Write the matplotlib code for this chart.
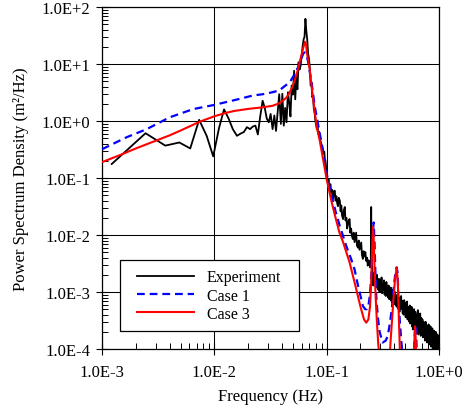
import matplotlib
matplotlib.use('Agg')
import matplotlib.pyplot as plt
from matplotlib.patches import Rectangle
from matplotlib.ticker import FixedLocator, LogLocator, NullFormatter

plt.rcParams['font.family'] = ['Liberation Serif', 'DejaVu Serif']

# ---- data ----
# experiment, low frequency part (Hz, m2/Hz)
exp_freq_low = [0.00122, 0.00244, 0.00366, 0.00488, 0.0061, 0.00732, 0.00854, 0.00977,
                0.011, 0.0122, 0.0134, 0.0146, 0.0159, 0.0171, 0.0183, 0.0195, 0.0208,
                0.022, 0.0232, 0.0244, 0.0256, 0.0269, 0.0281, 0.0293, 0.0305, 0.0317,
                0.033, 0.0342, 0.0354, 0.0366, 0.0378, 0.0391, 0.0403, 0.0415, 0.0427,
                0.0439, 0.0452, 0.0464, 0.0476, 0.0488, 0.05, 0.0513, 0.0525, 0.0537,
                0.0549, 0.0562, 0.0574, 0.0586, 0.0598, 0.061, 0.0623, 0.0635, 0.0647,
                0.0659, 0.0671, 0.0684, 0.0696, 0.0708, 0.072, 0.0732, 0.0745, 0.0757,
                0.0769, 0.0781, 0.0793, 0.0806, 0.0818, 0.083, 0.0842, 0.0854, 0.0867,
                0.0879, 0.0891, 0.0903, 0.0915, 0.0928, 0.094, 0.0952, 0.0964, 0.0976,
                0.0989]
exp_psd_low = [0.176, 0.61, 0.37, 0.42, 0.33, 1.05, 0.55, 0.24,
               0.75, 1.6, 1.1, 0.72, 0.55, 0.6, 0.64, 0.78, 0.72,
               0.8, 0.83, 0.58, 1.2, 2.27, 1.7, 1.1, 0.95, 1.33,
               0.72, 1.25, 0.67, 1.4, 2.95, 0.89, 3.0, 0.83, 1.7,
               0.95, 3.2, 2.1, 1.2, 4.2, 2.9, 7.6, 2.4, 6.2,
               3.6, 10.7, 8.0, 9.3, 14, 20, 27, 30, 62,
               38, 27, 15, 12.3, 8.5, 4.2, 4.8, 2.6, 2.8,
               1.6, 1.4, 1.0, 0.85, 0.72, 0.78, 0.6, 0.65, 0.5,
               0.45, 0.42, 0.36, 0.34, 0.3, 0.27, 0.29, 0.21, 0.2,
               0.15]

# experiment, high frequency part
exp_freq_high = [0.100, 0.102, 0.104, 0.106, 0.108, 0.110, 0.112, 0.114, 0.116, 0.118,
                 0.120, 0.122, 0.124, 0.126, 0.128, 0.131, 0.133, 0.135, 0.137, 0.140,
                 0.142, 0.145, 0.147, 0.150, 0.152, 0.154, 0.157, 0.160, 0.162, 0.165,
                 0.168, 0.171, 0.174, 0.177, 0.180, 0.183, 0.186, 0.190, 0.193, 0.196,
                 0.200, 0.203, 0.206, 0.210, 0.213, 0.217, 0.221, 0.225, 0.229, 0.232,
                 0.236, 0.240, 0.244, 0.247, 0.249, 0.251, 0.254,
                 0.256, 0.260, 0.264, 0.268, 0.272, 0.276, 0.280, 0.284, 0.288, 0.292,
                 0.296, 0.300, 0.304, 0.308, 0.312, 0.316, 0.320, 0.324, 0.328, 0.332,
                 0.336, 0.340, 0.344, 0.348, 0.352, 0.356, 0.360, 0.364, 0.368, 0.372,
                 0.376, 0.380, 0.384, 0.388, 0.392, 0.396, 0.400,
                 0.405, 0.410, 0.415, 0.420, 0.425, 0.430, 0.435, 0.440, 0.445, 0.450,
                 0.455, 0.460, 0.465, 0.470, 0.475, 0.480, 0.485, 0.490, 0.495, 0.500,
                 0.505, 0.510, 0.515, 0.520, 0.525, 0.530, 0.535, 0.540, 0.545, 0.550,
                 0.555, 0.560, 0.565, 0.570, 0.575, 0.580, 0.585, 0.590, 0.595, 0.600,
                 0.608, 0.616, 0.624, 0.632, 0.640, 0.648, 0.656, 0.664, 0.672, 0.680,
                 0.688, 0.696, 0.704, 0.712, 0.720, 0.728, 0.736, 0.744, 0.752, 0.760,
                 0.768, 0.776, 0.784, 0.792, 0.800, 0.808, 0.816, 0.824, 0.832, 0.840,
                 0.848, 0.856, 0.864, 0.872, 0.880, 0.888, 0.896, 0.904, 0.912, 0.920,
                 0.928, 0.936, 0.944, 0.952, 0.960, 0.968, 0.976, 0.984, 0.992, 1.000]
exp_psd_high = [0.110, 0.085, 0.095, 0.070, 0.078, 0.055, 0.062, 0.043, 0.058, 0.060,
                0.040, 0.048, 0.036, 0.032, 0.045, 0.040, 0.026, 0.033, 0.022, 0.019,
                0.027, 0.031, 0.018, 0.020, 0.013, 0.0145, 0.018, 0.019, 0.011, 0.013,
                0.0095, 0.0085, 0.011, 0.0075, 0.009, 0.011, 0.0065, 0.006, 0.008, 0.0055,
                0.0065, 0.0074, 0.0045, 0.0038, 0.0052, 0.0042, 0.005, 0.0035, 0.004, 0.0029,
                0.0036, 0.0033, 0.0027, 0.0035, 0.031, 0.003, 0.0029,
                1.9e-3, 1.3e-3, 2.2e-3, 1.5e-3, 1.8e-3, 1.2e-3, 2.0e-3, 1.4e-3, 1.1e-3, 1.7e-3,
                1.0e-3, 1.6e-3, 1.2e-3, 1.8e-3, 0.95e-3, 1.4e-3, 1.1e-3, 1.6e-3, 0.9e-3, 1.3e-3,
                0.85e-3, 1.5e-3, 1.0e-3, 1.2e-3, 0.8e-3, 1.3e-3, 0.75e-3, 1.1e-3, 0.9e-3, 1.2e-3,
                0.7e-3, 1.0e-3, 0.65e-3, 1.1e-3, 0.6e-3, 0.9e-3, 0.7e-3,
                1.0e-3, 0.6e-3, 0.85e-3, 0.55e-3, 0.9e-3, 0.65e-3, 0.5e-3, 0.8e-3, 0.45e-3, 0.75e-3,
                0.55e-3, 0.85e-3, 0.5e-3, 0.7e-3, 0.42e-3, 0.6e-3, 0.4e-3, 0.72e-3, 0.45e-3, 0.65e-3,
                0.36e-3, 0.6e-3, 0.4e-3, 0.68e-3, 0.33e-3, 0.55e-3, 0.38e-3, 0.5e-3, 0.3e-3, 0.58e-3,
                0.28e-3, 0.45e-3, 0.32e-3, 0.55e-3, 0.25e-3, 0.5e-3, 0.22e-3, 0.42e-3, 0.3e-3, 0.5e-3,
                0.25e-3, 0.45e-3, 0.2e-3, 0.4e-3, 0.27e-3, 0.48e-3, 0.18e-3, 0.38e-3, 0.22e-3, 0.42e-3,
                0.17e-3, 0.35e-3, 0.2e-3, 0.33e-3, 0.16e-3, 0.3e-3, 0.19e-3, 0.28e-3, 0.14e-3, 0.3e-3,
                0.15e-3, 0.26e-3, 0.13e-3, 0.24e-3, 0.16e-3, 0.27e-3, 0.12e-3, 0.22e-3, 0.14e-3, 0.25e-3,
                0.11e-3, 0.2e-3, 0.13e-3, 0.23e-3, 0.10e-3, 0.19e-3, 0.12e-3, 0.21e-3, 0.095e-3, 0.17e-3,
                0.11e-3, 0.2e-3, 0.09e-3, 0.16e-3, 0.1e-3, 0.18e-3, 0.085e-3, 0.15e-3, 0.1e-3, 0.17e-3]

# Case 1 (blue dashed)
case1_freq = [0.001, 0.00166, 0.0025, 0.004, 0.0065, 0.0098, 0.0169, 0.022, 0.027, 0.033,
              0.038, 0.041, 0.047, 0.052, 0.0575, 0.06, 0.062, 0.064, 0.066, 0.068,
              0.073, 0.078, 0.084, 0.092, 0.1, 0.11, 0.12, 0.13, 0.149, 0.165,
              0.177, 0.19, 0.21, 0.22, 0.228, 0.236, 0.243, 0.25, 0.255, 0.259,
              0.262, 0.266, 0.271, 0.277, 0.286, 0.296, 0.315, 0.335, 0.35, 0.365,
              0.38, 0.39, 0.40, 0.41, 0.42, 0.428, 0.435, 0.446, 0.46, 0.48,
              0.54, 0.59, 0.602, 0.61, 0.618, 0.628, 0.64, 0.75, 1.0]
case1_psd = [0.32, 0.52, 0.72, 1.16, 1.62, 1.9, 2.45, 2.8, 2.95, 3.2,
             3.45, 3.9, 4.8, 6.7, 10.0, 13.0, 15.5, 16.0, 14.5, 11.5,
             5.0, 1.9, 0.85, 0.33, 0.12, 0.05, 0.026, 0.015, 6.5e-3, 3.8e-3,
             2.5e-3, 1.3e-3, 5.7e-4, 5.0e-4, 5.0e-4, 6.0e-4, 9.0e-4, 2.2e-3, 6.0e-3, 0.012,
             0.0166, 9.0e-3, 2.5e-3, 7.6e-4, 3.5e-4, 2.0e-4, 1.3e-4, 1.4e-4, 1.7e-4, 2.8e-4,
             5.0e-4, 9.0e-4, 1.5e-3, 2.2e-3, 2.7e-3, 2.2e-3, 7.6e-4, 3.5e-4, 1.5e-4, 6.0e-5,
             2.0e-5, 5.0e-5, 1.2e-4, 2.0e-4, 2.6e-4, 1.5e-4, 5.0e-5, 1.0e-5, 3.0e-6]

# Case 3 (red solid)
case3_freq = [0.001, 0.0015, 0.002, 0.003, 0.004, 0.005, 0.0074, 0.01, 0.0125, 0.015,
              0.02, 0.027, 0.033, 0.038, 0.041, 0.044, 0.047, 0.05, 0.052, 0.055,
              0.0575, 0.06, 0.062, 0.064, 0.0655, 0.067, 0.0706, 0.074, 0.078, 0.082,
              0.087, 0.093, 0.1, 0.11, 0.12, 0.13, 0.14, 0.16, 0.18, 0.2,
              0.215, 0.225, 0.235, 0.243, 0.249, 0.254, 0.258, 0.262, 0.267, 0.273,
              0.28, 0.288, 0.3, 0.33, 0.36, 0.37, 0.39, 0.405, 0.42, 0.43,
              0.44, 0.448, 0.46, 0.55, 0.595, 0.605, 0.612, 0.62, 0.63, 0.7, 1.0]
case3_psd = [0.19, 0.26, 0.33, 0.45, 0.56, 0.68, 0.97, 1.21, 1.38, 1.5,
             1.63, 1.74, 1.85, 2.05, 2.3, 2.6, 3.2, 4.2, 5.2, 7.5,
             10.7, 15.0, 19.5, 24.6, 22.0, 15.0, 8.0, 3.6, 1.5, 0.75,
             0.44, 0.21, 0.095, 0.04, 0.02, 0.011, 7.5e-3, 3.3e-3, 1.3e-3, 5.5e-4,
             3.3e-4, 2.9e-4, 3.3e-4, 5.5e-4, 1.5e-3, 6.0e-3, 0.014, 9.0e-3, 2.5e-3, 8.0e-4,
             3.0e-4, 1.2e-4, 5.0e-5, 2.0e-5, 5.0e-5, 1.3e-4, 6.0e-4, 1.6e-3, 2.7e-3, 1.5e-3,
             3.0e-4, 1.0e-4, 4.0e-5, 1.0e-5, 5.0e-5, 1.5e-4, 2.5e-4, 1.5e-4, 5.0e-5, 1.0e-5, 2.0e-6]

x_ticks = [1e-3, 1e-2, 1e-1, 1e0]
x_labels = ['1.0E-3', '1.0E-2', '1.0E-1', '1.0E+0']
y_ticks = [1e-4, 1e-3, 1e-2, 1e-1, 1e0, 1e1, 1e2]
y_labels = ['1.0E-4', '1.0E-3', '1.0E-2', '1.0E-1', '1.0E+0', '1.0E+1', '1.0E+2']

# ---- figure ----
fig = plt.figure(figsize=(4.65, 4.10), dpi=100)
ax = fig.add_axes([0.2194, 0.1463, 0.7247, 0.8342])

ax.plot(exp_freq_low + exp_freq_high, exp_psd_low + exp_psd_high,
        color='black', lw=1.3, label='Experiment', zorder=3)
ax.plot(case1_freq, case1_psd, color='#0000ff', lw=1.6, ls=(0, (3.5, 2.2)),
        label='Case 1', zorder=4)
ax.plot(case3_freq, case3_psd, color='#ff0000', lw=1.5, label='Case 3', zorder=5)

ax.set_xscale('log')
ax.set_yscale('log')
ax.set_xlim(1e-3, 1)
ax.set_ylim(1e-4, 1e2)

ax.xaxis.set_major_locator(FixedLocator(x_ticks))
ax.set_xticklabels(x_labels)
ax.yaxis.set_major_locator(FixedLocator(y_ticks))
ax.set_yticklabels(y_labels)
ax.xaxis.set_minor_locator(LogLocator(base=10, subs=range(2, 10), numticks=20))
ax.yaxis.set_minor_locator(LogLocator(base=10, subs=range(2, 10), numticks=20))
ax.xaxis.set_minor_formatter(NullFormatter())
ax.yaxis.set_minor_formatter(NullFormatter())

ax.tick_params(which='major', direction='inout', length=9, width=0.8,
               labelsize=12, colors='black')
ax.tick_params(axis='x', which='major', pad=6)
ax.tick_params(axis='y', which='major', pad=4)
ax.tick_params(which='minor', direction='in', length=4, width=0.7)

ax.grid(True, which='major', color='black', lw=0.75, zorder=1)
for s in ax.spines.values():
    s.set_linewidth(0.9)
    s.set_color('black')

ax.set_xlabel('Frequency (Hz)', fontsize=12, labelpad=6)
ax.set_ylabel('Power Spectrum Density (m²/Hz)', fontsize=12, labelpad=9)

# legend: square frame drawn as a patch, entries placed inside it
frame = Rectangle((0.053, 0.053), 0.532, 0.207, transform=ax.transAxes,
                  facecolor='white', edgecolor='black', lw=0.9, zorder=9)
ax.add_patch(frame)
lg = ax.legend(loc='center left', bbox_to_anchor=(0.103, 0.156), borderaxespad=0,
               fontsize=11.5, frameon=False, handlelength=3.6, handletextpad=0.78,
               labelspacing=0.15, borderpad=0)
lg.set_zorder(10)

fig.savefig('out.png', dpi=100)
